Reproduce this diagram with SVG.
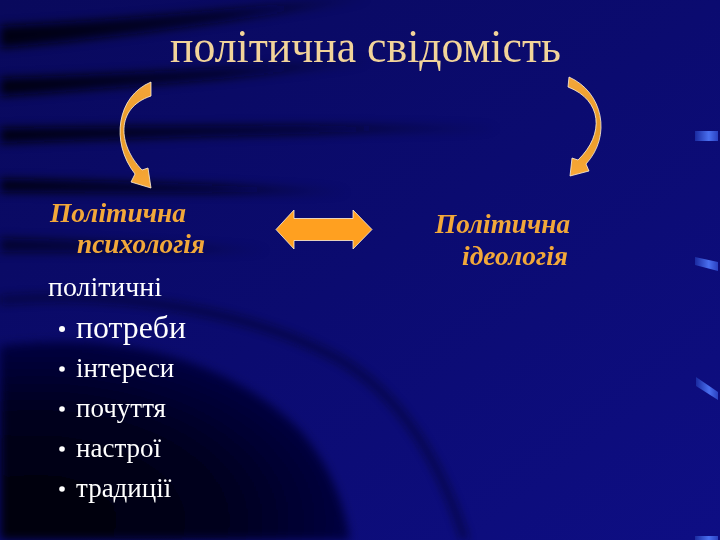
<svg xmlns="http://www.w3.org/2000/svg" width="720" height="540" viewBox="0 0 720 540">
<defs>
<style>
.title{font-family:"Liberation Serif","Times New Roman",serif;font-size:46px;fill:#f2d49a}
.head{font-family:"Liberation Serif","Times New Roman",serif;font-size:27px;font-weight:bold;font-style:italic;fill:#f2a83a}
.body{font-family:"Liberation Serif","Times New Roman",serif;fill:#ffffff}
.arrow{stroke:#fff3dc;stroke-width:0.8;stroke-linejoin:round}
</style>
<linearGradient id="bg" x1="0" y1="0" x2="1" y2="1">
<stop offset="0" stop-color="#09095c"/>
<stop offset="0.5" stop-color="#0b0b70"/>
<stop offset="1" stop-color="#0e0e84"/>
</linearGradient>
<linearGradient id="org" x1="0" y1="0" x2="0" y2="1">
<stop offset="0" stop-color="#f4a63a"/>
<stop offset="0.5" stop-color="#e89a28"/>
<stop offset="1" stop-color="#f8a838"/>
</linearGradient>
<linearGradient id="hl" x1="0" y1="0" x2="1" y2="0">
<stop offset="0" stop-color="#1a2aa0"/>
<stop offset="0.6" stop-color="#4a70f0"/>
<stop offset="1" stop-color="#2a40c0"/>
</linearGradient>
<radialGradient id="dark" cx="0.1" cy="0.9" r="0.9">
<stop offset="0" stop-color="#000008"/>
<stop offset="0.6" stop-color="#02021e"/>
<stop offset="1" stop-color="#060640"/>
</radialGradient>
<linearGradient id="fadeR" x1="0" y1="0" x2="1" y2="0">
<stop offset="0" stop-color="#000010" stop-opacity="0.95"/>
<stop offset="0.6" stop-color="#000010" stop-opacity="0.7"/>
<stop offset="1" stop-color="#000010" stop-opacity="0"/>
</linearGradient>
<filter id="blur" x="-20%" y="-50%" width="140%" height="200%"><feGaussianBlur stdDeviation="5"/></filter>
</defs>

<g id="background">
<rect width="720" height="540" fill="url(#bg)"/>
<g filter="url(#blur)">
<path d="M0 26 C120 20 250 8 370 -6 L370 0 C250 18 120 38 0 48 Z" fill="url(#fadeR)"/>
<path d="M0 78 C120 74 240 68 370 58 L370 64 C240 78 120 88 0 96 Z" fill="url(#fadeR)"/>
<path d="M0 128 C150 126 320 124 500 126 L500 131 C320 132 150 138 0 143 Z" fill="url(#fadeR)"/>
<path d="M0 179 C120 181 240 185 350 190 L350 194 C240 193 120 193 0 192 Z" fill="url(#fadeR)"/>
<path d="M0 238 C80 240 160 244 270 249 L270 252 C160 252 80 252 0 252 Z" fill="url(#fadeR)" opacity="0.7"/>
</g>
<path d="M0 346 C120 330 230 360 300 430 C330 465 345 505 350 540 L0 540 Z" fill="url(#dark)" filter="url(#blur)"/>
<path d="M0 300 C120 290 250 310 340 360 C400 395 440 460 465 540" fill="none" stroke="#000018" stroke-width="6" opacity="0.6" filter="url(#blur)"/>
<polygon points="695,131 718,131 718,141 695,141" fill="url(#hl)"/>
<polygon points="695,257 718,262 718,271 695,265" fill="url(#hl)"/>
<polygon points="696,377 718,392 718,400 696,386" fill="url(#hl)"/>
<polygon points="695,536 718,536 718,540 695,540" fill="url(#hl)"/>
</g>

<g id="title">
<text class="title" x="170" y="62" textLength="391" lengthAdjust="spacingAndGlyphs">політична свідомість</text>
</g>

<g id="connectors">
<path id="arrow-left" class="arrow" fill="url(#org)" d="M151 82 C117 96 110 142 135 174 L131 182 L151 188 L148 168 L142 170 C118 145 115 108 151 96 Z"/>
<path id="arrow-right" class="arrow" fill="url(#org)" d="M569 77 C603 92 612 136 586 164 L589 171 L570 176 L572 158 L578 160 C605 134 602 100 568 87 Z"/>
<path id="arrow-double" class="arrow" fill="#ffa020" d="M276 229.5 L294 210 L294 218.5 L353 218.5 L353 210 L372 229.5 L353 249 L353 240.5 L294 240.5 L294 249 Z"/>
</g>

<g id="node-psychology">
<text class="head" x="50" y="222" textLength="136" lengthAdjust="spacingAndGlyphs">Політична</text>
<text class="head" x="77" y="253" textLength="128" lengthAdjust="spacingAndGlyphs">психологія</text>
</g>

<g id="node-ideology">
<text class="head" x="435" y="233" textLength="135" lengthAdjust="spacingAndGlyphs">Політична</text>
<text class="head" x="462" y="265" textLength="106" lengthAdjust="spacingAndGlyphs">ідеологія</text>
</g>

<g id="list">
<text class="body" x="48" y="296" font-size="28" textLength="114" lengthAdjust="spacingAndGlyphs">політичні</text>
<circle cx="62" cy="329" r="3" fill="#ffffff"/>
<text class="body" x="76" y="338" font-size="32" textLength="110" lengthAdjust="spacingAndGlyphs">потреби</text>
<circle cx="62" cy="369" r="2.8" fill="#ffffff"/>
<text class="body" x="76" y="377" font-size="27">інтереси</text>
<circle cx="62" cy="409" r="2.8" fill="#ffffff"/>
<text class="body" x="76" y="417" font-size="27">почуття</text>
<circle cx="62" cy="449" r="2.8" fill="#ffffff"/>
<text class="body" x="76" y="457" font-size="27">настрої</text>
<circle cx="62" cy="489" r="2.8" fill="#ffffff"/>
<text class="body" x="76" y="497" font-size="27">традиції</text>
</g>
</svg>
